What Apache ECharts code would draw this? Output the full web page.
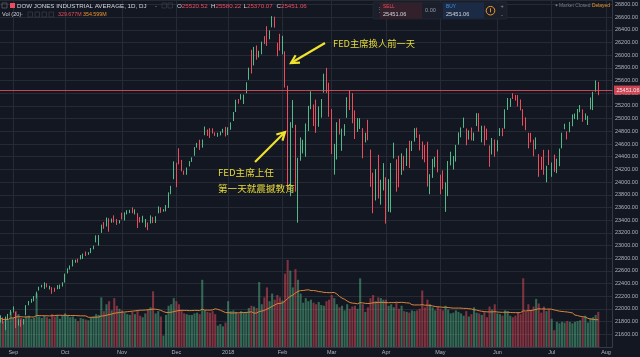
<!DOCTYPE html>
<html><head><meta charset="utf-8">
<script src="https://cdn.jsdelivr.net/npm/echarts/dist/echarts.min.js"></script>
<style>html,body{margin:0;padding:0;background:#131722;}#c{width:640px;height:357px;}</style>
</head><body><div id="c"></div><script>
// ---- data ----
const dates = [
'2017-08-25','2017-08-28','2017-08-29','2017-08-30','2017-08-31',
'2017-09-01','2017-09-05','2017-09-06','2017-09-07','2017-09-08','2017-09-11','2017-09-12','2017-09-13','2017-09-14','2017-09-15','2017-09-18','2017-09-19','2017-09-20','2017-09-21','2017-09-22','2017-09-25','2017-09-26','2017-09-27','2017-09-28','2017-09-29',
'2017-10-02','2017-10-03','2017-10-04','2017-10-05','2017-10-06','2017-10-09','2017-10-10','2017-10-11','2017-10-12','2017-10-13','2017-10-16','2017-10-17','2017-10-18','2017-10-19','2017-10-20','2017-10-23','2017-10-24','2017-10-25','2017-10-26','2017-10-27','2017-10-30','2017-10-31',
'2017-11-01','2017-11-02','2017-11-03','2017-11-06','2017-11-07','2017-11-08','2017-11-09','2017-11-10','2017-11-13','2017-11-14','2017-11-15','2017-11-16','2017-11-17','2017-11-20','2017-11-21','2017-11-22','2017-11-24','2017-11-27','2017-11-28','2017-11-29','2017-11-30',
'2017-12-01','2017-12-04','2017-12-05','2017-12-06','2017-12-07','2017-12-08','2017-12-11','2017-12-12','2017-12-13','2017-12-14','2017-12-15','2017-12-18','2017-12-19','2017-12-20','2017-12-21','2017-12-22','2017-12-26','2017-12-27','2017-12-28','2017-12-29',
'2018-01-02','2018-01-03','2018-01-04','2018-01-05','2018-01-08','2018-01-09','2018-01-10','2018-01-11','2018-01-12','2018-01-16','2018-01-17','2018-01-18','2018-01-19','2018-01-22','2018-01-23','2018-01-24','2018-01-25','2018-01-26','2018-01-29','2018-01-30','2018-01-31',
'2018-02-01','2018-02-02','2018-02-05','2018-02-06','2018-02-07','2018-02-08','2018-02-09','2018-02-12','2018-02-13','2018-02-14','2018-02-15','2018-02-16','2018-02-20','2018-02-21','2018-02-22','2018-02-23','2018-02-26','2018-02-27','2018-02-28',
'2018-03-01','2018-03-02','2018-03-05','2018-03-06','2018-03-07','2018-03-08','2018-03-09','2018-03-12','2018-03-13','2018-03-14','2018-03-15','2018-03-16','2018-03-19','2018-03-20','2018-03-21','2018-03-22','2018-03-23','2018-03-26','2018-03-27','2018-03-28','2018-03-29',
'2018-04-02','2018-04-03','2018-04-04','2018-04-05','2018-04-06','2018-04-09','2018-04-10','2018-04-11','2018-04-12','2018-04-13','2018-04-16','2018-04-17','2018-04-18','2018-04-19','2018-04-20','2018-04-23','2018-04-24','2018-04-25','2018-04-26','2018-04-27','2018-04-30',
'2018-05-01','2018-05-02','2018-05-03','2018-05-04','2018-05-07','2018-05-08','2018-05-09','2018-05-10','2018-05-11','2018-05-14','2018-05-15','2018-05-16','2018-05-17','2018-05-18','2018-05-21','2018-05-22','2018-05-23','2018-05-24','2018-05-25','2018-05-29','2018-05-30','2018-05-31',
'2018-06-01','2018-06-04','2018-06-05','2018-06-06','2018-06-07','2018-06-08','2018-06-11','2018-06-12','2018-06-13','2018-06-14','2018-06-15','2018-06-18','2018-06-19','2018-06-20','2018-06-21','2018-06-22','2018-06-25','2018-06-26','2018-06-27','2018-06-28','2018-06-29',
'2018-07-02','2018-07-03','2018-07-05','2018-07-06','2018-07-09','2018-07-10','2018-07-11','2018-07-12','2018-07-13','2018-07-16','2018-07-17','2018-07-18','2018-07-19','2018-07-20','2018-07-23','2018-07-24','2018-07-25','2018-07-26','2018-07-27',
'2018-07-30','2018-07-31','2018-08-01','2018-08-02','2018-08-03'];

const open = [21802,21820,21720,21863,21912,
21982,21937,21776,21820,21769,21900,22087,22101,22140,22199,22300,22350,22381,22397,22321,22338,22322,22330,22330,22380,
22423,22564,22635,22680,22758,22785,22800,22821,22868,22860,22889,22950,23060,23120,23215,23358,23315,23420,23368,23450,23411,23369,
23442,23431,23538,23532,23576,23545,23511,23426,23376,23387,23350,23347,23446,23358,23508,23596,23539,23576,23593,23867,24045,
24305,24424,24335,24155,24165,24263,24318,24415,24543,24600,24589,24739,24810,24829,24797,24774,24715,24766,24796,24849,
24809,24851,24964,25115,25309,25312,25308,25400,25613,25987,25860,26150,26038,26019,26292,26293,26313,26462,26584,26198,26268,
26083,26062,25338,24086,24876,24903,23992,24337,24541,24535,24924,25165,25124,24984,24901,25016,25410,25703,25452,
25025,24468,24464,24980,24664,24832,25017,25384,25264,25080,24845,24878,24835,24660,24740,24513,23976,23785,24276,23833,23915,
24076,23720,23693,24373,24358,24034,24188,24256,24254,24521,24513,24713,24818,24712,24641,24489,24489,24027,24133,24299,24384,
24117,24097,23836,23865,24317,24341,24399,24591,24743,24856,24845,24699,24754,24691,24883,25047,24784,24889,24780,24578,24435,24601,
24542,24726,24823,24842,25187,25228,25343,25331,25324,25226,25136,25015,24778,24731,24657,24517,24441,24300,24356,24088,24297,
24161,24366,24221,24315,24532,24833,24769,24785,24903,25011,25016,25141,25144,25048,25029,25145,25247,25433,25520.52];

const high = [21900,21865,21880,21921,21982,
22040,21954,21838,21830,21840,22060,22126,22160,22204,22273,22350,22380,22419,22404,22365,22343,22334,22375,22384,22420,
22557,22641,22685,22777,22777,22793,22850,22873,22905,22895,22961,22998,23160,23165,23329,23369,23442,23430,23426,23476,23417,23400,
23517,23523,23557,23563,23602,23571,23511,23450,23469,23418,23363,23475,23451,23461,23617,23602,23573,23638,23838,23941,24327,
24305,24534,24350,24181,24230,24330,24390,24552,24618,24668,24671,24876,24829,24850,24848,24784,24778,24797,24840,24871,
24864,24941,25105,25299,25311,25386,25380,25574,25804,26086,26131,26154,26072,26215,26301,26458,26392,26617,26608,26198,26338,
26306,26062,25520,24946,25293,24904,24382,24705,24668,24924,25203,25432,25224,25300,25193,25310,25709,25800,25567,
25150,24603,24944,24997,24843,24913,25338,25449,25402,25132,25011,25008,24850,24778,24982,24513,24148,24204,24430,24037,24299,
24076,24047,24301,24622,24359,24416,24453,24414,24534,24652,24650,24849,24858,24751,24641,24584,24636,24124,24366,24399,24512,
24117,24185,23996,24333,24479,24412,24586,24784,24862,25017,24845,24816,24859,24780,25087,25086,24889,24889,24843,24578,24695,24672,
24661,24851,24850,25147,25326,25320,25402,25375,25372,25303,25150,25020,24778,24776,24670,24705,24441,24398,24509,24257,24509,
24309,24434,24369,24529,24778,24920,24800,24950,25068,25081,25153,25215,25146,25082,25045,25334,25424,25603,25580.22];

const low = [21785,21769,21665,21822,21902,
21942,21698,21738,21718,21754,21900,22057,22097,22121,22168,22290,22340,22316,22340,22307,22239,22270,22310,22315,22353,
22416,22559,22620,22670,22727,22732,22781,22788,22835,22853,22880,22940,23050,22998,23200,23263,23300,23218,23360,23362,23325,23348,
23411,23394,23490,23510,23510,23490,23277,23362,23360,23286,23242,23347,23354,23355,23508,23516,23535,23538,23593,23809,24045,
23921,24280,24170,24115,24116,24247,24318,24415,24543,24508,24543,24739,24728,24695,24766,24728,24714,24736,24778,24719,
24741,24825,24963,25105,25236,25300,25232,25400,25613,25711,25840,25929,25965,26015,26176,26148,26251,26440,26435,25985,26073,
26014,25490,23923,23778,24855,23849,23360,24337,24452,24400,24805,25149,24884,24776,24873,25016,25410,25402,25029,
24442,24118,24356,24750,24493,24729,25013,25136,24928,24679,24791,24837,24376,24625,24659,23925,23509,23710,23741,23645,23869,
23345,23532,23522,24373,23849,23918,24114,24182,24254,24223,24490,24639,24697,24500,24358,24312,23930,23809,24067,24233,24154,
23808,23886,23531,23778,24263,24198,24323,24591,24706,24856,24581,24670,24658,24650,24883,24796,24626,24578,24662,24241,24435,24400,
24483,24726,24724,24842,25138,25186,25310,25285,25193,25130,24890,24818,24532,24625,24406,24517,24084,24194,24115,23997,24270,
24084,24161,24141,24250,24532,24833,24672,24785,24880,24993,24983,25101,24951,24980,24900,25145,25135,25424,25370.07];

const close = [21814,21808,21865,21892,21948,
21988,21753,21807,21784,21798,22057,22118,22158,22203,22268,22331,22370,22412,22359,22349,22296,22284,22341,22381,22405,
22557,22641,22662,22775,22774,22762,22831,22873,22842,22871,22957,22997,23158,23163,23329,23274,23441,23329,23401,23434,23349,23377,
23436,23517,23539,23549,23557,23563,23462,23422,23440,23409,23271,23458,23358,23430,23590,23526,23558,23580,23836,23940,24272,
24232,24290,24181,24140,24212,24329,24386,24504,24585,24509,24652,24792,24754,24726,24782,24754,24746,24774,24837,24719,
24824,24922,25075,25295,25283,25385,25369,25574,25803,25792,26116,26017,26071,26214,26211,26253,26392,26616,26439,26077,26149,
26186,25521,24346,24912,24893,23860,24191,24601,24640,24893,25201,25219,24965,24798,24962,25310,25709,25410,25029,
24608,24538,24874,24884,24801,24895,25336,25178,25007,24759,24873,24947,24611,24727,24683,23958,23533,24202,23857,23849,24103,
23644,24034,24265,24505,23933,23979,24408,24189,24483,24360,24573,24787,24748,24665,24463,24449,24025,24084,24322,24311,24163,
24100,23925,23930,24263,24358,24361,24543,24740,24831,24899,24707,24769,24714,24715,25013,24835,24887,24812,24753,24362,24668,24416,
24635,24814,24799,25146,25241,25317,25322,25320,25201,25175,25090,24987,24700,24657,24461,24580,24252,24283,24117,24216,24271,
24307,24174,24356,24456,24776,24919,24700,24925,25019,25064,25120,25199,25064,25058,25044,25241,25415,25527,25451.06];

// volume, millions
const volume = [380,340,370,350,460,
380,470,430,380,370,400,410,370,380,700,400,380,410,390,370,430,400,420,370,410,
440,410,390,400,370,340,380,370,360,350,380,400,430,420,650,470,560,600,480,640,540,500,
480,450,430,420,460,430,480,410,390,440,490,520,730,440,470,400,150,420,540,560,640,
600,560,480,440,430,420,420,440,450,430,880,480,460,450,470,430,280,300,270,320,
600,470,480,460,440,470,450,460,510,540,530,510,850,560,650,780,600,700,620,680,650,
610,960,1140,1000,780,1020,880,700,580,640,600,620,580,560,590,550,540,600,620,
680,640,560,520,540,480,560,500,530,540,500,900,560,460,520,640,680,600,650,640,620,
620,540,560,520,580,500,540,470,460,450,480,470,480,500,740,520,620,560,520,480,530,
500,480,540,490,440,450,480,460,440,410,470,400,430,520,450,440,420,460,390,530,490,560,
440,430,410,480,470,410,390,410,450,430,900,460,560,480,530,630,570,450,530,470,490,
370,220,330,310,330,320,340,330,310,330,340,350,390,410,320,380,390,420,460];

const monthNames = ['Jan','Feb','Mar','Apr','May','Jun','Jul','Aug','Sep','Oct','Nov','Dec'];
const priceMin = 21400, priceMax = 26871, priceStep = 200;
const lastClose = 25451.06;

// ---- styles ----
const UP = '#53b987', DN = '#eb4d5c';
const VOL_UP = 'rgba(83,185,135,0.5)', VOL_DN = 'rgba(235,77,92,0.5)';
const BG = '#131722', GRID = '#262a35', AX = '#b2b5be';
const YEL = '#f1e22e', TXTY = '#e8da38';
const LAT = 'Liberation Sans, Arial, sans-serif';
const CJK = 'Noto Sans CJK TC, Noto Sans CJK SC, sans-serif';

const candles = close.map((c, i) => [open[i], c, low[i], high[i]]);
const volBars = volume.map((v, i) => ({ value: v, itemStyle: { color: close[i] >= open[i] ? VOL_UP : VOL_DN } }));
const volMA = volume.map((v, i) => {
  const s = Math.max(0, i - 19); let t = 0;
  for (let k = s; k <= i; k++) t += volume[k];
  return +(t / (i - s + 1)).toFixed(2);
});
const isMonthStart = i => i > 0 && dates[i].slice(5, 7) !== dates[i - 1].slice(5, 7);

function arrow(x1, y1, x2, y2) {
  const a = Math.atan2(y2 - y1, x2 - x1), L = 9, s = 0.5;
  return [
    { type: 'line', shape: { x1, y1, x2, y2 }, style: { stroke: YEL, lineWidth: 2.2 }, z: 50 },
    { type: 'polyline', z: 50, shape: { points: [[x2 - L * Math.cos(a - s), y2 - L * Math.sin(a - s)], [x2, y2], [x2 - L * Math.cos(a + s), y2 - L * Math.sin(a + s)]] },
      style: { stroke: YEL, lineWidth: 2.2, fill: null, lineJoin: 'miter' } }
  ];
}
function txt(x, y, text, fill, size, font, extra) {
  return Object.assign({ type: 'text', x, y, z: 60, style: { text, fill, fontSize: size, fontFamily: font || LAT, verticalAlign: 'middle', align: 'left' } }, extra || {});
}

const graphics = [
  // top-left legend
  { type: 'rect', shape: { x: 2, y: 3, width: 5, height: 5 }, style: { fill: null, stroke: '#5d606b', lineWidth: 0.8 }, z: 60 },
  { type: 'rect', shape: { x: 10, y: 3, width: 5, height: 5 }, style: { fill: DN }, z: 60 },
  txt(17, 6, 'DOW JONES INDUSTRIAL AVERAGE, 1D, DJ', '#d1d4dc', 6.2),
  txt(155, 6, '-', '#9598a1', 6.2),
  { type: 'rect', shape: { x: 162, y: 3, width: 4.5, height: 5 }, style: { fill: null, stroke: '#363a45', lineWidth: 0.8 }, z: 60 },
  { type: 'rect', shape: { x: 168, y: 3, width: 4.5, height: 5 }, style: { fill: null, stroke: '#363a45', lineWidth: 0.8 }, z: 60 },
  { type: 'text', x: 177, y: 6, z: 60, style: { text: '{w|O}{r|25520.52}', rich: { w: { fill: '#d1d4dc', fontSize: 6.2, fontFamily: LAT }, r: { fill: DN, fontSize: 6.2, fontFamily: LAT } }, verticalAlign: 'middle' } },
  { type: 'text', x: 211, y: 6, z: 60, style: { text: '{w|H}{r|25580.22}', rich: { w: { fill: '#d1d4dc', fontSize: 6.2, fontFamily: LAT }, r: { fill: DN, fontSize: 6.2, fontFamily: LAT } }, verticalAlign: 'middle' } },
  { type: 'text', x: 243.5, y: 6, z: 60, style: { text: '{w|L}{r|25370.07}', rich: { w: { fill: '#d1d4dc', fontSize: 6.2, fontFamily: LAT }, r: { fill: DN, fontSize: 6.2, fontFamily: LAT } }, verticalAlign: 'middle' } },
  { type: 'text', x: 276.5, y: 6, z: 60, style: { text: '{w|C}{r|25451.06}', rich: { w: { fill: '#d1d4dc', fontSize: 6.2, fontFamily: LAT }, r: { fill: DN, fontSize: 6.2, fontFamily: LAT } }, verticalAlign: 'middle' } },
  txt(2, 14.5, 'Vol (20)', '#d1d4dc', 5.6),
  txt(21, 14.5, '-', '#9598a1', 5.6),
  { type: 'rect', shape: { x: 28, y: 12, width: 4.5, height: 5 }, style: { fill: null, stroke: '#363a45', lineWidth: 0.8 }, z: 60 },
  { type: 'rect', shape: { x: 35, y: 12, width: 4.5, height: 5 }, style: { fill: null, stroke: '#363a45', lineWidth: 0.8 }, z: 60 },
  { type: 'rect', shape: { x: 42, y: 12, width: 4.5, height: 5 }, style: { fill: null, stroke: '#363a45', lineWidth: 0.8 }, z: 60 },
  { type: 'rect', shape: { x: 49, y: 12, width: 4.5, height: 5 }, style: { fill: null, stroke: '#363a45', lineWidth: 0.8 }, z: 60 },
  txt(58, 14.5, '329.677M', DN, 5.3),
  txt(83, 14.5, '354.599M', '#f0962e', 5.3),
  // trading panel
  { type: 'rect', shape: { x: 373, y: 2, width: 134, height: 17, r: 1.5 }, style: { fill: '#1b1f2b', stroke: '#2a2e39', lineWidth: 0.6 }, z: 55 },
  { type: 'rect', shape: { x: 380, y: 2.5, width: 42, height: 16 }, style: { fill: '#32202b' }, z: 56 },
  { type: 'rect', shape: { x: 443, y: 2.5, width: 41, height: 16 }, style: { fill: '#1b2a45' }, z: 56 },
  txt(375.5, 10.5, '⋮', '#6a6d78', 7),
  txt(383, 6.8, 'SELL', DN, 4.8),
  txt(383, 14, '25451.06', '#d1d4dc', 5.6),
  txt(425, 10.8, '0.00', '#9598a1', 5.6),
  txt(446, 6.8, 'BUY', '#4a90e2', 4.8),
  txt(446, 14, '25451.06', '#d1d4dc', 5.6),
  { type: 'circle', shape: { cx: 490.5, cy: 10.7, r: 4.3 }, style: { fill: null, stroke: '#f09a2e', lineWidth: 1 }, z: 60 },
  { type: 'line', shape: { x1: 490.5, y1: 8.3, x2: 490.5, y2: 12.3 }, style: { stroke: '#f09a2e', lineWidth: 0.9 }, z: 60 },
  txt(500.5, 6, '+', '#9598a1', 5.5),
  txt(501, 15, '-', '#9598a1', 5.5),
  // market status
  { type: 'circle', shape: { cx: 556.5, cy: 5.3, r: 1 }, style: { fill: '#787b86' }, z: 60 },
  txt(559, 5.5, 'Market Closed', '#787b86', 4.9),
  txt(592, 5.5, 'Delayed', '#f09a2e', 4.9),
  // annotations
  ...arrow(325, 43, 291, 63),
  ...arrow(255, 162, 285, 132),
  txt(333, 43.5, 'FED主席換人前一天', TXTY, 9.3, CJK),
  txt(218, 172, 'FED主席上任', TXTY, 9.6, CJK),
  txt(218, 188, '第一天就震撼教育', TXTY, 9.6, CJK)
];

const chart = echarts.init(document.getElementById('c'), null, { renderer: 'canvas' });
const gridL = -0.93, gridR = 27.5;
chart.setOption({
  backgroundColor: BG,
  animation: false,
  grid: [
    { left: gridL, right: gridR, top: 0, bottom: 10, containLabel: false, outerBoundsMode: 'none' },
    { left: gridL, right: gridR, top: 200, bottom: 10, containLabel: false, outerBoundsMode: 'none' }
  ],
  xAxis: [
    { type: 'category', data: dates, gridIndex: 0, boundaryGap: true,
      axisLine: { show: true, lineStyle: { color: '#363a45', width: 1 } },
      axisTick: { show: false },
      axisLabel: { interval: (i) => isMonthStart(i), color: AX, fontSize: 5.5, fontFamily: LAT, margin: 2.5,
        formatter: (v) => { const m = +v.slice(5, 7); return m === 1 ? v.slice(0, 4) : monthNames[m - 1]; } },
      splitLine: { show: true, interval: (i) => isMonthStart(i), alignWithLabel: true, lineStyle: { color: GRID, width: 1 } } },
    { type: 'category', data: dates, gridIndex: 1, boundaryGap: true, show: false }
  ],
  yAxis: [
    { type: 'value', gridIndex: 0, position: 'right', min: priceMin, max: priceMax, interval: priceStep, scale: true,
      axisLine: { show: true, lineStyle: { color: '#363a45' } }, axisTick: { show: false },
      axisLabel: { color: AX, fontSize: 5.5, fontFamily: LAT, margin: 2.5, showMaxLabel: false, showMinLabel: false,
        formatter: (v) => (Math.round(v) % priceStep === 0 ? v.toFixed(2) : '') },
      splitLine: { show: true, lineStyle: { color: GRID, width: 1 } } },
    { type: 'value', gridIndex: 1, min: 0, max: 1925, show: false, splitLine: { show: false } }
  ],
  series: [
    { type: 'bar', name: 'Vol', xAxisIndex: 1, yAxisIndex: 1, data: volBars, barWidth: '80%', silent: true },
    { type: 'line', name: 'VolMA', xAxisIndex: 1, yAxisIndex: 1, data: volMA, symbol: 'none', silent: true,
      lineStyle: { color: '#d9873a', width: 1 } },
    { type: 'candlestick', name: 'DJI', xAxisIndex: 0, yAxisIndex: 0, data: candles, barWidth: 1.3, silent: true,
      itemStyle: { color: UP, color0: DN, borderColor: UP, borderColor0: DN, borderColorDoji: UP, borderWidth: 1 },
      markLine: { symbol: 'none', silent: true, animation: false,
        lineStyle: { color: DN, width: 1, type: 'solid', opacity: 0.85 },
        label: { show: true, position: 'end', formatter: lastClose.toFixed(2), color: '#ffffff', backgroundColor: DN,
          fontSize: 5.5, fontFamily: LAT, padding: [1.5, 2.5], distance: 1.5 },
        data: [{ yAxis: lastClose }] } }
  ],
  graphic: graphics
});
</script></body></html>
